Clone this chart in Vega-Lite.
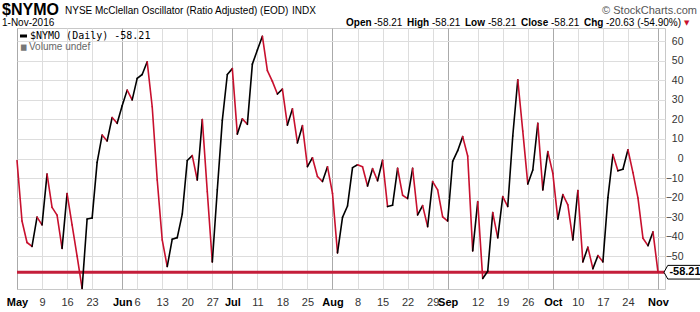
{
  "$schema": "https://vega.github.io/schema/vega-lite/v6.json",
  "width": 648,
  "height": 261,
  "autosize": "none",
  "padding": {"left": 17, "top": 28, "right": 35, "bottom": 23},
  "background": "white",
  "config": {"view": {"stroke": "#c8c8c8"}, "font": "Liberation Sans"},
  "datasets": {
    "nymo": [
      {"d": "2016-05-02", "v": -1}, {"d": "2016-05-03", "v": -32}, {"d": "2016-05-04", "v": -43}, {"d": "2016-05-05", "v": -45}, {"d": "2016-05-06", "v": -30},
      {"d": "2016-05-09", "v": -34}, {"d": "2016-05-10", "v": -8}, {"d": "2016-05-11", "v": -25}, {"d": "2016-05-12", "v": -29}, {"d": "2016-05-13", "v": -46},
      {"d": "2016-05-16", "v": -18}, {"d": "2016-05-17", "v": -34}, {"d": "2016-05-18", "v": -50}, {"d": "2016-05-19", "v": -66.5}, {"d": "2016-05-20", "v": -31},
      {"d": "2016-05-23", "v": -30.5}, {"d": "2016-05-24", "v": -2}, {"d": "2016-05-25", "v": 12}, {"d": "2016-05-26", "v": 9}, {"d": "2016-05-27", "v": 21},
      {"d": "2016-05-31", "v": 18},
      {"d": "2016-06-01", "v": 27}, {"d": "2016-06-02", "v": 35}, {"d": "2016-06-03", "v": 30},
      {"d": "2016-06-06", "v": 41}, {"d": "2016-06-07", "v": 43}, {"d": "2016-06-08", "v": 49.5}, {"d": "2016-06-09", "v": 26.5}, {"d": "2016-06-10", "v": -11},
      {"d": "2016-06-13", "v": -41.7}, {"d": "2016-06-14", "v": -55.3}, {"d": "2016-06-15", "v": -41.3}, {"d": "2016-06-16", "v": -40.5}, {"d": "2016-06-17", "v": -28.5},
      {"d": "2016-06-20", "v": -1}, {"d": "2016-06-21", "v": 1.5}, {"d": "2016-06-22", "v": -11}, {"d": "2016-06-23", "v": 20}, {"d": "2016-06-24", "v": -17},
      {"d": "2016-06-27", "v": -53}, {"d": "2016-06-28", "v": -16}, {"d": "2016-06-29", "v": 19.5}, {"d": "2016-06-30", "v": 43},
      {"d": "2016-07-01", "v": 46},
      {"d": "2016-07-05", "v": 12.5}, {"d": "2016-07-06", "v": 20.3}, {"d": "2016-07-07", "v": 17.5}, {"d": "2016-07-08", "v": 48.3},
      {"d": "2016-07-11", "v": 55.5}, {"d": "2016-07-12", "v": 62.6}, {"d": "2016-07-13", "v": 45}, {"d": "2016-07-14", "v": 39.5}, {"d": "2016-07-15", "v": 33},
      {"d": "2016-07-18", "v": 35.5}, {"d": "2016-07-19", "v": 17.1}, {"d": "2016-07-20", "v": 25.4}, {"d": "2016-07-21", "v": 8}, {"d": "2016-07-22", "v": 16.8},
      {"d": "2016-07-25", "v": -4.2}, {"d": "2016-07-26", "v": 0.4}, {"d": "2016-07-27", "v": -9.2}, {"d": "2016-07-28", "v": -11.8}, {"d": "2016-07-29", "v": -4.2},
      {"d": "2016-08-01", "v": -17.8}, {"d": "2016-08-02", "v": -48.3}, {"d": "2016-08-03", "v": -30.1}, {"d": "2016-08-04", "v": -24.3}, {"d": "2016-08-05", "v": -4.7},
      {"d": "2016-08-08", "v": -3.2}, {"d": "2016-08-09", "v": -4.2}, {"d": "2016-08-10", "v": -14.1}, {"d": "2016-08-11", "v": -5.2}, {"d": "2016-08-12", "v": -11.4},
      {"d": "2016-08-15", "v": -0.9}, {"d": "2016-08-16", "v": -24.6}, {"d": "2016-08-17", "v": -23.9}, {"d": "2016-08-18", "v": -5}, {"d": "2016-08-19", "v": -18.8},
      {"d": "2016-08-22", "v": -20.5}, {"d": "2016-08-23", "v": -5}, {"d": "2016-08-24", "v": -28.9}, {"d": "2016-08-25", "v": -24.1}, {"d": "2016-08-26", "v": -34.9},
      {"d": "2016-08-29", "v": -11.8}, {"d": "2016-08-30", "v": -16.1}, {"d": "2016-08-31", "v": -29.9},
      {"d": "2016-09-01", "v": -32}, {"d": "2016-09-02", "v": -1.5},
      {"d": "2016-09-06", "v": 4}, {"d": "2016-09-07", "v": 11.2}, {"d": "2016-09-08", "v": 1.3}, {"d": "2016-09-09", "v": -47.3},
      {"d": "2016-09-12", "v": -22.1}, {"d": "2016-09-13", "v": -61.4}, {"d": "2016-09-14", "v": -57.7}, {"d": "2016-09-15", "v": -27.7}, {"d": "2016-09-16", "v": -40.6},
      {"d": "2016-09-19", "v": -19.5}, {"d": "2016-09-20", "v": -24.6}, {"d": "2016-09-21", "v": 11.5}, {"d": "2016-09-22", "v": 40.3}, {"d": "2016-09-23", "v": 14},
      {"d": "2016-09-26", "v": -13}, {"d": "2016-09-27", "v": -5.9}, {"d": "2016-09-28", "v": 18}, {"d": "2016-09-29", "v": -16.1}, {"d": "2016-09-30", "v": 3.5},
      {"d": "2016-10-03", "v": -7.6}, {"d": "2016-10-04", "v": -31}, {"d": "2016-10-05", "v": -18.5}, {"d": "2016-10-06", "v": -23.7}, {"d": "2016-10-07", "v": -41.7},
      {"d": "2016-10-10", "v": -16.4}, {"d": "2016-10-11", "v": -52.9}, {"d": "2016-10-12", "v": -45.4}, {"d": "2016-10-13", "v": -56.4}, {"d": "2016-10-14", "v": -49.7},
      {"d": "2016-10-17", "v": -52.9}, {"d": "2016-10-18", "v": -20}, {"d": "2016-10-19", "v": 2}, {"d": "2016-10-20", "v": -6.3}, {"d": "2016-10-21", "v": -5.5},
      {"d": "2016-10-24", "v": 4.5}, {"d": "2016-10-25", "v": -7.2}, {"d": "2016-10-26", "v": -20.2}, {"d": "2016-10-27", "v": -40.8}, {"d": "2016-10-28", "v": -44.6},
      {"d": "2016-10-31", "v": -37.58},
      {"d": "2016-11-01", "v": -58.21}
    ]
  },
  "data": {"name": "nymo"},
  "layer": [
    {
      "mark": {"type": "point", "opacity": 0},
      "encoding": {
        "x": {
          "field": "d", "type": "ordinal", "title": null,
          "scale": {"type": "point", "padding": 0.7, "align": 0},
          "axis": {
            "orient": "bottom",
            "values": ["2016-05-02","2016-05-09","2016-05-16","2016-05-23","2016-06-01","2016-06-06","2016-06-13","2016-06-20","2016-06-27","2016-07-01","2016-07-11","2016-07-18","2016-07-25","2016-08-01","2016-08-08","2016-08-15","2016-08-22","2016-08-29","2016-09-01","2016-09-12","2016-09-19","2016-09-26","2016-10-03","2016-10-10","2016-10-17","2016-10-24","2016-11-01"],
            "labelExpr": "indexof(['2016-05-02','2016-06-01','2016-07-01','2016-08-01','2016-09-01','2016-10-03','2016-11-01'], datum.value) >= 0 ? utcFormat(toDate(datum.value), '%b') : '' + parseInt(substring(datum.value, 8, 10))",
            "labelFontWeight": {"condition": {"test": "indexof(['2016-05-02','2016-06-01','2016-07-01','2016-08-01','2016-09-01','2016-10-03','2016-11-01'], datum.value) >= 0", "value": "bold"}, "value": "normal"},
            "labelColor": {"condition": {"test": "indexof(['2016-05-02','2016-06-01','2016-07-01','2016-08-01','2016-09-01','2016-10-03','2016-11-01'], datum.value) >= 0", "value": "#000000"}, "value": "#333333"},
            "gridColor": {"condition": {"test": "indexof(['2016-05-02','2016-06-01','2016-07-01','2016-08-01','2016-09-01','2016-10-03','2016-11-01'], datum.value) >= 0", "value": "#aaaaaa"}, "value": "#dddddd"},
            "grid": true,
            "ticks": false,
            "domain": false,
            "labelAngle": 0,
            "labelOverlap": false,
            "labelBound": false,
            "labelFlush": false,
            "labelPadding": 7,
            "labelFont": "Liberation Sans",
            "labelFontSize": 11
          }
        },
        "y": {
          "field": "v", "type": "quantitative", "title": null,
          "scale": {"domain": [-66.8, 66.8], "nice": false, "zero": false},
          "axis": {
            "orient": "right",
            "values": [-50, -40, -30, -20, -10, 0, 10, 20, 30, 40, 50, 60],
            "tickCount": 20,
            "grid": true,
            "gridColor": "#dddddd",
            "ticks": false,
            "domain": false,
            "labelOverlap": false,
            "labelBound": false,
            "labelFlush": false,
            "labelAlign": "right",
            "labelPadding": 18,
            "labelFont": "Liberation Sans",
            "labelFontSize": 10.5,
            "labelColor": "#333333"
          }
        }
      }
    },
    {
      "data": {"values": [{}]},
      "mark": {"type": "rule", "color": "#c41e3a", "strokeWidth": 3},
      "encoding": {"y": {"datum": -58.21}}
    },
    {
      "transform": [
        {"window": [{"op": "lag", "field": "v", "as": "pv"}, {"op": "lag", "field": "d", "as": "pd"}], "sort": [{"field": "d"}]},
        {"filter": "datum.pd != null"},
        {"calculate": "datum.v >= datum.pv ? 'up' : 'down'", "as": "dir"}
      ],
      "mark": {"type": "rule", "strokeWidth": 1.6, "strokeCap": "round"},
      "encoding": {
        "x": {"field": "pd", "type": "ordinal", "title": null},
        "x2": {"field": "d"},
        "y": {"field": "pv", "type": "quantitative", "title": null},
        "y2": {"field": "v"},
        "color": {"field": "dir", "type": "nominal", "scale": {"domain": ["up", "down"], "range": ["#000000", "#c8102e"]}, "legend": null}
      }
    },
    {
      "data": {"values": [{}]},
      "mark": {"type": "point", "shape": "M-1,0L-0.8,-0.36H1V0.36H-0.8Z", "size": 1444, "filled": true, "fill": "white", "stroke": "black", "strokeWidth": 1, "opacity": 1, "xOffset": 25},
      "encoding": {"x": {"datum": "2016-11-01"}, "y": {"datum": -58.21}}
    },
    {
      "data": {"values": [{}]},
      "mark": {"type": "text", "text": "-58.21", "font": "Liberation Sans", "fontSize": 11, "fontWeight": "bold", "align": "center", "baseline": "middle", "color": "#000", "xOffset": 27},
      "encoding": {"x": {"datum": "2016-11-01"}, "y": {"datum": -58.21}}
    },
    {
      "data": {"values": [{}]},
      "mark": {"type": "rule", "color": "#000", "strokeWidth": 3},
      "encoding": {"x": {"value": 3}, "x2": {"value": 10}, "y": {"value": 8}}
    },
    {
      "data": {"values": [{}]},
      "mark": {"type": "text", "text": "$NYMO (Daily) -58.21", "font": "DejaVu Sans Mono", "fontSize": 10, "align": "left", "baseline": "middle", "color": "#000"},
      "encoding": {"x": {"value": 13}, "y": {"value": 7.5}}
    },
    {
      "data": {"values": [{}]},
      "mark": {"type": "text", "text": "▆", "fontSize": 7, "align": "left", "baseline": "middle", "color": "#777"},
      "encoding": {"x": {"value": 4}, "y": {"value": 18.5}}
    },
    {
      "data": {"values": [{}]},
      "mark": {"type": "text", "text": "Volume undef", "font": "Liberation Sans", "fontSize": 10, "align": "left", "baseline": "middle", "color": "#666"},
      "encoding": {"x": {"value": 12}, "y": {"value": 18.5}}
    },
    {
      "data": {"values": [{}]},
      "mark": {"type": "text", "text": "$NYMO", "font": "Liberation Sans", "fontSize": 16, "fontWeight": "bold", "align": "left", "baseline": "alphabetic", "color": "#000"},
      "encoding": {"x": {"value": -15}, "y": {"value": -13}}
    },
    {
      "data": {"values": [{}]},
      "mark": {"type": "text", "text": "NYSE McClellan Oscillator (Ratio Adjusted) (EOD)", "font": "Liberation Sans", "fontSize": 10, "align": "left", "baseline": "alphabetic", "color": "#000"},
      "encoding": {"x": {"value": 48}, "y": {"value": -14}}
    },
    {
      "data": {"values": [{}]},
      "mark": {"type": "text", "text": "INDX", "font": "Liberation Sans", "fontSize": 10, "align": "left", "baseline": "alphabetic", "color": "#000"},
      "encoding": {"x": {"value": 275}, "y": {"value": -14}}
    },
    {
      "data": {"values": [{}]},
      "mark": {"type": "text", "text": "© StockCharts.com", "font": "Liberation Sans", "fontSize": 11, "align": "right", "baseline": "alphabetic", "color": "#555"},
      "encoding": {"x": {"value": 680}, "y": {"value": -14}}
    },
    {
      "data": {"values": [{}]},
      "mark": {"type": "text", "text": "1-Nov-2016", "font": "Liberation Sans", "fontSize": 10, "align": "left", "baseline": "alphabetic", "color": "#000"},
      "encoding": {"x": {"value": -15}, "y": {"value": -2}}
    },
    {
      "data": {"values": [{}]},
      "mark": {"type": "text", "text": "Open", "font": "Liberation Sans", "fontSize": 10, "fontWeight": "bold", "align": "left", "baseline": "alphabetic", "color": "#000"},
      "encoding": {"x": {"value": 329}, "y": {"value": -2}}
    },
    {
      "data": {"values": [{}]},
      "mark": {"type": "text", "text": "-58.21", "font": "Liberation Sans", "fontSize": 10, "align": "left", "baseline": "alphabetic", "color": "#000"},
      "encoding": {"x": {"value": 357}, "y": {"value": -2}}
    },
    {
      "data": {"values": [{}]},
      "mark": {"type": "text", "text": "High", "font": "Liberation Sans", "fontSize": 10, "fontWeight": "bold", "align": "left", "baseline": "alphabetic", "color": "#000"},
      "encoding": {"x": {"value": 390}, "y": {"value": -2}}
    },
    {
      "data": {"values": [{}]},
      "mark": {"type": "text", "text": "-58.21", "font": "Liberation Sans", "fontSize": 10, "align": "left", "baseline": "alphabetic", "color": "#000"},
      "encoding": {"x": {"value": 415}, "y": {"value": -2}}
    },
    {
      "data": {"values": [{}]},
      "mark": {"type": "text", "text": "Low", "font": "Liberation Sans", "fontSize": 10, "fontWeight": "bold", "align": "left", "baseline": "alphabetic", "color": "#000"},
      "encoding": {"x": {"value": 448}, "y": {"value": -2}}
    },
    {
      "data": {"values": [{}]},
      "mark": {"type": "text", "text": "-58.21", "font": "Liberation Sans", "fontSize": 10, "align": "left", "baseline": "alphabetic", "color": "#000"},
      "encoding": {"x": {"value": 471}, "y": {"value": -2}}
    },
    {
      "data": {"values": [{}]},
      "mark": {"type": "text", "text": "Close", "font": "Liberation Sans", "fontSize": 10, "fontWeight": "bold", "align": "left", "baseline": "alphabetic", "color": "#000"},
      "encoding": {"x": {"value": 504}, "y": {"value": -2}}
    },
    {
      "data": {"values": [{}]},
      "mark": {"type": "text", "text": "-58.21", "font": "Liberation Sans", "fontSize": 10, "align": "left", "baseline": "alphabetic", "color": "#000"},
      "encoding": {"x": {"value": 534}, "y": {"value": -2}}
    },
    {
      "data": {"values": [{}]},
      "mark": {"type": "text", "text": "Chg", "font": "Liberation Sans", "fontSize": 10, "fontWeight": "bold", "align": "left", "baseline": "alphabetic", "color": "#000"},
      "encoding": {"x": {"value": 567}, "y": {"value": -2}}
    },
    {
      "data": {"values": [{}]},
      "mark": {"type": "text", "text": "-20.63 (-54.90%)", "font": "Liberation Sans", "fontSize": 10, "align": "left", "baseline": "alphabetic", "color": "#000"},
      "encoding": {"x": {"value": 589}, "y": {"value": -2}}
    },
    {
      "data": {"values": [{}]},
      "mark": {"type": "text", "text": "▼", "font": "DejaVu Sans", "fontSize": 7, "align": "left", "baseline": "alphabetic", "color": "#c8102e"},
      "encoding": {"x": {"value": 667}, "y": {"value": -3}}
    }
  ]
}
